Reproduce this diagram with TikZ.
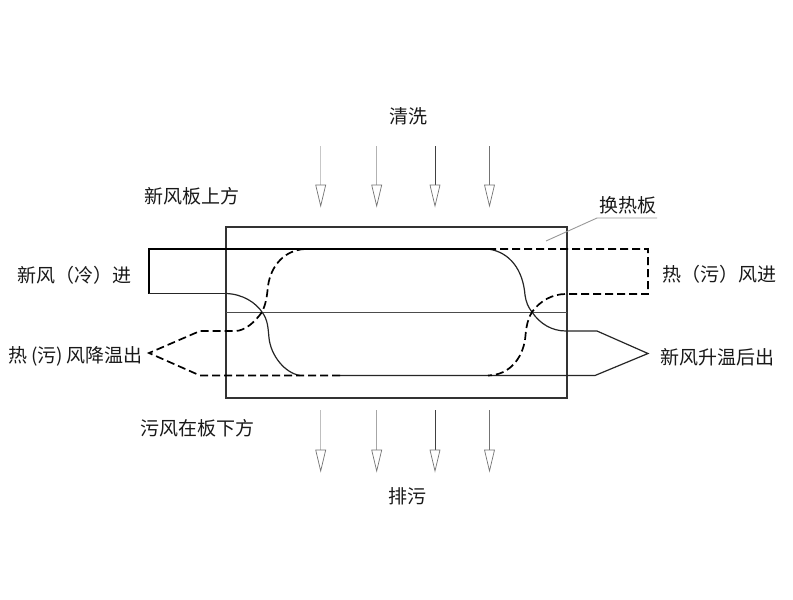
\documentclass[tikz,border=0pt]{standalone}
\usepackage{fontspec}
\setmainfont{Noto Sans CJK SC}
\tikzset{
  lab/.style={inner sep=0pt,font=\fontsize{19}{21}\selectfont,text=black!90},
  frameline/.style={draw=black!80,line width=1.1pt},
  thickline/.style={draw=black,line width=2pt},
  thinline/.style={draw=black!85,line width=1.2pt},
  dashline/.style={draw=black,line width=1.7pt,dash pattern=on 8pt off 4pt},
  arrowline/.style={line width=1pt},
  tipshape/.style={draw=black!55,line width=0.7pt,fill=white},
}
\begin{document}
\begin{tikzpicture}[x=1pt,y=-1pt]
\useasboundingbox (0,0) rectangle (793,600);
\fill[white] (0,0) rectangle (793,600);
% frame
\coordinate (fTL) at (226,227); \coordinate (fBR) at (567,398);
\draw[frameline] (fTL) rectangle (fBR);
\coordinate (mL) at (226,312); \coordinate (mR) at (567,312);
\draw[thinline,draw=black!70,line width=0.9pt] (mL) -- (mR);
% key points
\coordinate (a1) at (149,249); \coordinate (a2) at (149,293.5); \coordinate (a3) at (226,293.5);
\coordinate (xL) at (262,312); \coordinate (xR) at (532,312);
\coordinate (t1) at (305,249); \coordinate (t2) at (488,249);
\coordinate (b1) at (300,375.5); \coordinate (b2) at (340,375.5); \coordinate (b3) at (488,375.5); \coordinate (b4) at (595,375.5);
\coordinate (r1) at (566,331); \coordinate (r2) at (597,331); \coordinate (rt) at (648,353.5);
\coordinate (l1) at (200,331); \coordinate (l2) at (235,331); \coordinate (lt) at (149,353); \coordinate (l3) at (200,375.5);
\coordinate (d1) at (648,249); \coordinate (d2) at (648,294); \coordinate (d3) at (566,294);
% fresh air (solid)
\draw[thickline] (a2) -- (a1) -- (t2);
\draw[thinline,line width=1.5pt] (a2) -- (a3);
\draw[thinline] (a3) .. controls (243,294) and (256,303) .. (xL)
  .. controls (268,320) and (268,328) .. (269,338)
  .. controls (271,356) and (285,373) .. (b1);
\draw[thinline] (t2) .. controls (510,252) and (523,270) .. (525,295)
  .. controls (526,302) and (528,307) .. (xR)
  .. controls (540,324) and (552,331) .. (r1) -- (r2) -- (rt) -- (b4) -- (b2);
% exhaust air (dashed)
\draw[dashline] (b2) -- (l3) -- (lt) -- (l1) -- (l2)
  .. controls (245,331) and (255,322) .. (xL)
  .. controls (266,304) and (267,296) .. (268,286)
  .. controls (271,265) and (285,250) .. (t1);
\draw[dashline] (t2) -- (d1) -- (d2) -- (d3)
  .. controls (552,294) and (540,301) .. (xR)
  .. controls (526,322) and (526,332) .. (525,340)
  .. controls (522,358) and (510,375) .. (b3);
% top arrows
\foreach \n/\x/\c in {a/320.7/black!22,b/376.7/black!30,c/435/black!75,d/489.5/black!55}{
  \coordinate (s\n) at (\x,146); \coordinate (e\n) at (\x,185);
  \draw[arrowline,draw=\c] (s\n) -- (e\n);
  \draw[tipshape] (\x-5,185) -- (\x+5,185) -- (\x,206) -- cycle;
}
% bottom arrows
\foreach \n/\x/\c in {a/320.7/black!25,b/376.7/black!35,c/435/black!75,d/489.5/black!55}{
  \coordinate (u\n) at (\x,410); \coordinate (v\n) at (\x,450);
  \draw[arrowline,draw=\c] (u\n) -- (v\n);
  \draw[tipshape] (\x-5,450) -- (\x+5,450) -- (\x,471) -- cycle;
}
% labels
\node[lab] (qx) at (408,116) {清洗};
\node[lab] (xfs) at (191.5,196) {新风板上方};
\node[lab] (hrb) at (628,205) {换热板};
\node[lab] (xfj) at (74,275) {新风（冷）进};
\node[lab] (rwj) at (719.5,274) {热（污）风进};
\node[lab] (rwc) at (75.5,356) {热\,(污)\,风降温出};
\node[lab] (xfc) at (717,357) {新风升温后出};
\node[lab] (wfx) at (197,428) {污风在板下方};
\node[lab] (pw) at (407,496) {排污};
% leader
\coordinate (ld1) at (657,218); \coordinate (ld2) at (597,218); \coordinate (ld3) at (546,241);
\draw[draw=black!40,line width=0.9pt] (ld1) -- (ld2) -- (ld3);
\end{tikzpicture}
\end{document}
